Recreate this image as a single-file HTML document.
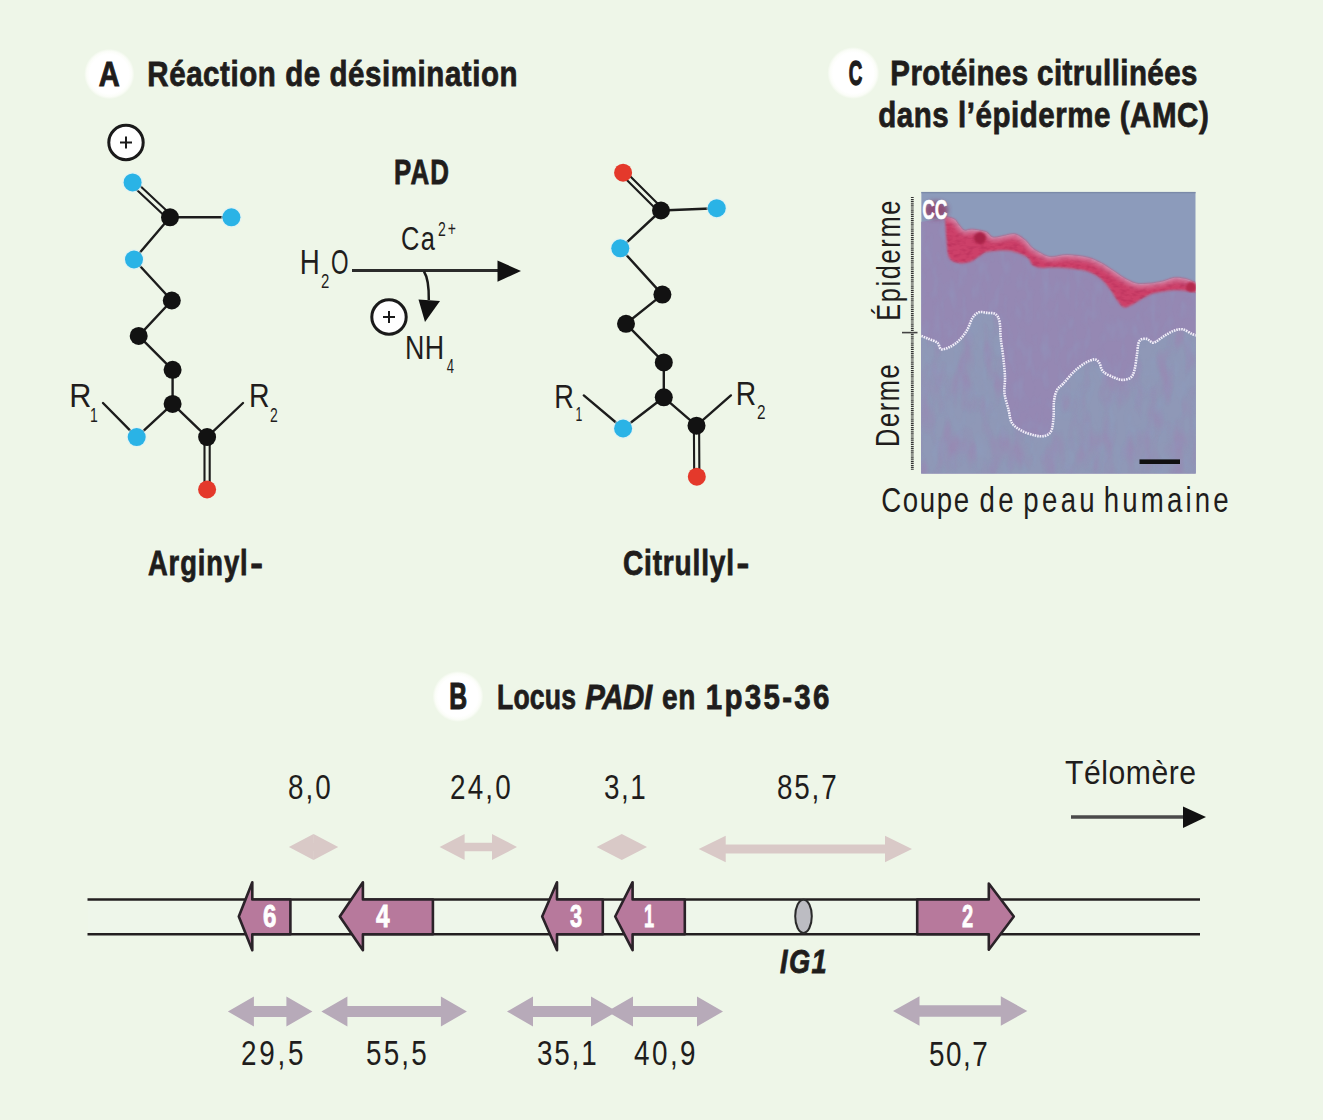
<!DOCTYPE html>
<html><head><meta charset="utf-8"><title>PAD figure</title>
<style>
html,body{margin:0;padding:0;background:#eef6e8;overflow:hidden;}
svg{display:block}
text{font-family:"Liberation Sans",sans-serif;}
</style></head>
<body>
<svg width="1323" height="1120" viewBox="0 0 1323 1120">
<rect x="0" y="0" width="1323" height="1120" fill="#eef6e8"/>
<defs><radialGradient id="badge"><stop offset="0.78" stop-color="#ffffff"/><stop offset="0.9" stop-color="#fbfdf8"/><stop offset="1" stop-color="#eef6e8"/></radialGradient></defs>
<circle cx="109.3" cy="74.0" r="25.2" fill="url(#badge)"/>
<circle cx="853.3" cy="73.0" r="26" fill="url(#badge)"/>
<circle cx="458.0" cy="696.5" r="25.5" fill="url(#badge)"/>
<g stroke="#1c1c1c" stroke-width="2.4" stroke-linecap="round" fill="none">
<line x1="170" y1="217.3" x2="231.4" y2="217.3"/>
<line x1="170" y1="217.3" x2="134" y2="259.5"/>
<line x1="134" y1="259.5" x2="171.8" y2="300.5"/>
<line x1="171.8" y1="300.5" x2="138.7" y2="335.9"/>
<line x1="138.7" y1="335.9" x2="172.6" y2="369.8"/>
<line x1="172.6" y1="369.8" x2="172.6" y2="403.9"/>
<line x1="172.6" y1="403.9" x2="136.7" y2="437.1"/>
<line x1="172.6" y1="403.9" x2="207.1" y2="437.1"/>
<line x1="136.7" y1="437.1" x2="103" y2="403"/>
<line x1="207.1" y1="437.1" x2="243" y2="403"/>
<line x1="130.8" y1="184.3" x2="168.2" y2="219.2" stroke-width="2.1"/>
<line x1="134.4" y1="180.5" x2="171.8" y2="215.4" stroke-width="2.1"/>
<line x1="204.5" y1="437.1" x2="204.5" y2="489.5" stroke-width="2.1"/>
<line x1="209.7" y1="437.1" x2="209.7" y2="489.5" stroke-width="2.1"/>
</g>
<circle cx="132.6" cy="182.4" r="10.2" fill="#d8f0f8" opacity="0.6"/>
<circle cx="132.6" cy="182.4" r="9" fill="#2ab3e6"/>
<circle cx="170" cy="217.3" r="9" fill="#121212"/>
<circle cx="231.4" cy="217.3" r="10.2" fill="#d8f0f8" opacity="0.6"/>
<circle cx="231.4" cy="217.3" r="9" fill="#2ab3e6"/>
<circle cx="134" cy="259.5" r="10.2" fill="#d8f0f8" opacity="0.6"/>
<circle cx="134" cy="259.5" r="9" fill="#2ab3e6"/>
<circle cx="171.8" cy="300.5" r="9" fill="#121212"/>
<circle cx="138.7" cy="335.9" r="9" fill="#121212"/>
<circle cx="172.6" cy="369.8" r="9" fill="#121212"/>
<circle cx="172.6" cy="403.9" r="9" fill="#121212"/>
<circle cx="136.7" cy="437.1" r="10.2" fill="#d8f0f8" opacity="0.6"/>
<circle cx="136.7" cy="437.1" r="9" fill="#2ab3e6"/>
<circle cx="207.1" cy="437.1" r="9" fill="#121212"/>
<circle cx="207.1" cy="489.5" r="9" fill="#e4392b"/>
<g stroke="#1c1c1c" stroke-width="2.4" stroke-linecap="round" fill="none">
<line x1="661" y1="210.5" x2="716.7" y2="208.2"/>
<line x1="661" y1="210.5" x2="620.3" y2="248.3"/>
<line x1="620.3" y1="248.3" x2="662.4" y2="294.6"/>
<line x1="662.4" y1="294.6" x2="626" y2="323.8"/>
<line x1="626" y1="323.8" x2="663.8" y2="362.4"/>
<line x1="663.8" y1="362.4" x2="663.8" y2="397.3"/>
<line x1="663.8" y1="397.3" x2="623.1" y2="428.5"/>
<line x1="663.8" y1="397.3" x2="696.5" y2="425.7"/>
<line x1="623.1" y1="428.5" x2="583.8" y2="395.4"/>
<line x1="696.5" y1="425.7" x2="730.9" y2="395.4"/>
<line x1="621.3" y1="174.5" x2="659.2" y2="212.3" stroke-width="2.1"/>
<line x1="624.9" y1="170.9" x2="662.8" y2="208.7" stroke-width="2.1"/>
<line x1="693.9" y1="425.7" x2="694.2" y2="476.7" stroke-width="2.1"/>
<line x1="699.1" y1="425.7" x2="699.4" y2="476.7" stroke-width="2.1"/>
</g>
<circle cx="623.1" cy="172.7" r="9" fill="#e4392b"/>
<circle cx="661" cy="210.5" r="9" fill="#121212"/>
<circle cx="716.7" cy="208.2" r="10.2" fill="#d8f0f8" opacity="0.6"/>
<circle cx="716.7" cy="208.2" r="9" fill="#2ab3e6"/>
<circle cx="620.3" cy="248.3" r="10.2" fill="#d8f0f8" opacity="0.6"/>
<circle cx="620.3" cy="248.3" r="9" fill="#2ab3e6"/>
<circle cx="662.4" cy="294.6" r="9" fill="#121212"/>
<circle cx="626" cy="323.8" r="9" fill="#121212"/>
<circle cx="663.8" cy="362.4" r="9" fill="#121212"/>
<circle cx="663.8" cy="397.3" r="9" fill="#121212"/>
<circle cx="623.1" cy="428.5" r="10.2" fill="#d8f0f8" opacity="0.6"/>
<circle cx="623.1" cy="428.5" r="9" fill="#2ab3e6"/>
<circle cx="696.5" cy="425.7" r="9" fill="#121212"/>
<circle cx="696.8" cy="476.7" r="9" fill="#e4392b"/>
<circle cx="126" cy="142.5" r="17.2" fill="#ffffff" stroke="#1a1a1a" stroke-width="3"/><path d="M120 142.5h12M126 136.5v12" stroke="#1a1a1a" stroke-width="2"/>
<circle cx="389" cy="317" r="17.2" fill="#ffffff" stroke="#1a1a1a" stroke-width="3"/><path d="M383 317h12M389 311v12" stroke="#1a1a1a" stroke-width="2"/>
<line x1="352" y1="270.5" x2="500" y2="270.5" stroke="#2b2b2b" stroke-width="3.2"/>
<path d="M497.5 260.5L521 271L497.5 281.7Z" fill="#111"/>
<path d="M424 271.5C427.5 277 429 287 428.8 300" fill="none" stroke="#1a1a1a" stroke-width="2.5"/>
<path d="M418.5 299.5L440 301L425 322Z" fill="#111"/>
<defs>
<clipPath id="imgclip"><rect x="921.2" y="191.8" width="274.5" height="281.6"/></clipPath>
<filter id="mottle" color-interpolation-filters="sRGB" x="0" y="0" width="100%" height="100%" filterUnits="objectBoundingBox">
<feTurbulence type="fractalNoise" baseFrequency="0.07 0.03" numOctaves="2" seed="7" result="t"/>
<feColorMatrix in="t" type="matrix" values="0 0 0 0 0.60  0 0 0 0 0.53  0 0 0 0 0.70  0 0 0 2.6 -1.1" result="c"/>
<feComposite in="c" in2="SourceGraphic" operator="in"/>
</filter>
<filter id="mottle2" color-interpolation-filters="sRGB" x="0" y="0" width="100%" height="100%" filterUnits="objectBoundingBox">
<feTurbulence type="fractalNoise" baseFrequency="0.12 0.05" numOctaves="2" seed="11" result="t"/>
<feColorMatrix in="t" type="matrix" values="0 0 0 0 0.55  0 0 0 0 0.64  0 0 0 0 0.78  0 0 0 2.2 -0.95" result="c"/>
<feComposite in="c" in2="SourceGraphic" operator="in"/>
</filter>
<filter id="redtex" color-interpolation-filters="sRGB" x="-5%" y="-5%" width="110%" height="110%">
<feTurbulence type="fractalNoise" baseFrequency="0.15 0.3" numOctaves="2" seed="4" result="t"/>
<feColorMatrix in="t" type="matrix" values="0 0 0 0 0.62  0 0 0 0 0.10  0 0 0 0 0.28  0 0 0 2.5 -1.1" result="c"/>
<feComposite in="c" in2="SourceGraphic" operator="in"/>
</filter>
<filter id="soft"><feGaussianBlur stdDeviation="1.1"/></filter>
<filter id="soft2"><feGaussianBlur stdDeviation="0.7"/></filter>
<filter id="soft3" x="-50%" y="-50%" width="200%" height="200%"><feGaussianBlur stdDeviation="2.5"/></filter>
</defs>
<g clip-path="url(#imgclip)">
<rect x="921.2" y="191.8" width="274.5" height="281.59999999999997" fill="#8c9bbb"/>
<path d="M919.2 222 L945 219 L945 217 L946.5 240 L949.3 258 L959.3 263 L970.5 261.8 L980.5 255.5 L988 251.8 L1005.5 250.5 L1018 253 L1028 258 L1033 265.5 L1043 268 L1050 267.6 L1072.7 268.8 L1089.7 272.2 L1101 279 L1110 289.2 L1118 301.6 L1123.7 307.3 L1131.6 305 L1140.7 299.4 L1152 293.7 L1163.4 291.4 L1180.4 290.3 L1197 292.6 L1199 292.6 L1199 475.4 L919.2 475.4 Z" fill="#9588b3" filter="url(#soft2)"/>
<path id="dermp" d="M919.0 335.0 C920.6 335.6 925.3 337.5 928.4 338.8 C931.5 340.1 935.2 341.0 937.4 342.7 C939.5 344.4 939.1 348.5 941.3 349.2 C943.5 349.9 947.4 348.1 950.4 346.6 C953.4 345.1 956.6 342.9 959.4 340.1 C962.2 337.3 965.0 333.5 967.2 329.8 C969.4 326.1 970.5 321.0 972.4 318.1 C974.3 315.2 976.2 313.2 978.8 312.3 C981.4 311.4 985.1 312.6 987.9 312.9 C990.7 313.2 993.8 312.7 995.7 314.2 C997.7 315.7 998.8 317.9 999.6 322.0 C1000.5 326.1 1000.2 332.8 1000.8 338.8 C1001.4 344.9 1002.7 351.8 1003.4 358.3 C1004.1 364.8 1004.8 371.9 1005.0 377.7 C1005.2 383.5 1003.9 387.8 1004.5 393.2 C1005.1 398.6 1007.4 405.0 1008.6 410.0 C1009.9 415.0 1009.8 419.6 1012.0 423.0 C1014.2 426.4 1017.9 428.6 1021.6 430.7 C1025.3 432.8 1030.6 434.4 1034.5 435.3 C1038.4 436.2 1042.1 436.7 1044.9 435.9 C1047.7 435.1 1049.8 433.9 1051.3 430.7 C1052.8 427.5 1053.1 421.4 1053.6 416.5 C1054.0 411.6 1053.4 405.4 1054.0 401.0 C1054.6 396.6 1055.5 392.9 1057.0 390.0 C1058.5 387.1 1060.5 386.7 1063.3 383.6 C1066.1 380.5 1070.5 374.9 1074.1 371.5 C1077.7 368.1 1081.6 365.1 1085.0 363.1 C1088.4 361.1 1092.2 359.4 1094.6 359.4 C1097.0 359.4 1098.0 361.1 1099.4 363.1 C1100.8 365.1 1100.7 369.1 1103.1 371.5 C1105.5 373.9 1110.7 376.1 1113.9 377.5 C1117.1 378.9 1119.6 379.9 1122.4 379.9 C1125.2 379.9 1128.8 379.1 1130.8 377.5 C1132.8 375.9 1133.4 373.9 1134.4 370.3 C1135.4 366.7 1136.0 360.6 1136.8 355.8 C1137.6 351.0 1137.6 344.2 1139.2 341.4 C1140.8 338.6 1144.1 338.7 1146.5 338.9 C1148.9 339.1 1150.9 343.0 1153.7 342.6 C1156.5 342.2 1160.2 338.4 1163.4 336.5 C1166.6 334.6 1169.8 332.3 1173.0 331.1 C1176.2 329.9 1179.4 328.8 1182.6 329.3 C1185.8 329.8 1189.7 333.0 1192.3 334.1 C1194.9 335.2 1197.0 335.7 1198.0 336.0 L1199 475.4 L919.2 475.4 Z" fill="#8f98b7"/>
<clipPath id="dermclip"><path d="M919.0 335.0 C920.6 335.6 925.3 337.5 928.4 338.8 C931.5 340.1 935.2 341.0 937.4 342.7 C939.5 344.4 939.1 348.5 941.3 349.2 C943.5 349.9 947.4 348.1 950.4 346.6 C953.4 345.1 956.6 342.9 959.4 340.1 C962.2 337.3 965.0 333.5 967.2 329.8 C969.4 326.1 970.5 321.0 972.4 318.1 C974.3 315.2 976.2 313.2 978.8 312.3 C981.4 311.4 985.1 312.6 987.9 312.9 C990.7 313.2 993.8 312.7 995.7 314.2 C997.7 315.7 998.8 317.9 999.6 322.0 C1000.5 326.1 1000.2 332.8 1000.8 338.8 C1001.4 344.9 1002.7 351.8 1003.4 358.3 C1004.1 364.8 1004.8 371.9 1005.0 377.7 C1005.2 383.5 1003.9 387.8 1004.5 393.2 C1005.1 398.6 1007.4 405.0 1008.6 410.0 C1009.9 415.0 1009.8 419.6 1012.0 423.0 C1014.2 426.4 1017.9 428.6 1021.6 430.7 C1025.3 432.8 1030.6 434.4 1034.5 435.3 C1038.4 436.2 1042.1 436.7 1044.9 435.9 C1047.7 435.1 1049.8 433.9 1051.3 430.7 C1052.8 427.5 1053.1 421.4 1053.6 416.5 C1054.0 411.6 1053.4 405.4 1054.0 401.0 C1054.6 396.6 1055.5 392.9 1057.0 390.0 C1058.5 387.1 1060.5 386.7 1063.3 383.6 C1066.1 380.5 1070.5 374.9 1074.1 371.5 C1077.7 368.1 1081.6 365.1 1085.0 363.1 C1088.4 361.1 1092.2 359.4 1094.6 359.4 C1097.0 359.4 1098.0 361.1 1099.4 363.1 C1100.8 365.1 1100.7 369.1 1103.1 371.5 C1105.5 373.9 1110.7 376.1 1113.9 377.5 C1117.1 378.9 1119.6 379.9 1122.4 379.9 C1125.2 379.9 1128.8 379.1 1130.8 377.5 C1132.8 375.9 1133.4 373.9 1134.4 370.3 C1135.4 366.7 1136.0 360.6 1136.8 355.8 C1137.6 351.0 1137.6 344.2 1139.2 341.4 C1140.8 338.6 1144.1 338.7 1146.5 338.9 C1148.9 339.1 1150.9 343.0 1153.7 342.6 C1156.5 342.2 1160.2 338.4 1163.4 336.5 C1166.6 334.6 1169.8 332.3 1173.0 331.1 C1176.2 329.9 1179.4 328.8 1182.6 329.3 C1185.8 329.8 1189.7 333.0 1192.3 334.1 C1194.9 335.2 1197.0 335.7 1198.0 336.0 L1199 475.4 L919.2 475.4 Z"/></clipPath>
<rect x="921.2" y="300" width="274.5" height="173.39999999999998" fill="#fff" filter="url(#mottle)" clip-path="url(#dermclip)" opacity="0.75"/>
<path d="M919.2 222 L945 219 L945 217 L946.5 240 L949.3 258 L959.3 263 L970.5 261.8 L980.5 255.5 L988 251.8 L1005.5 250.5 L1018 253 L1028 258 L1033 265.5 L1043 268 L1050 267.6 L1072.7 268.8 L1089.7 272.2 L1101 279 L1110 289.2 L1118 301.6 L1123.7 307.3 L1131.6 305 L1140.7 299.4 L1152 293.7 L1163.4 291.4 L1180.4 290.3 L1197 292.6 L1199 292.6 L1199 475.4 L919.2 475.4 Z" fill="#fff" filter="url(#mottle2)" opacity="0.25"/>
<path d="M946.0 216.5 C947.4 217.0 952.1 217.8 954.3 219.3 C956.5 220.8 957.6 223.6 959.3 225.5 C961.0 227.4 962.2 229.8 964.3 230.5 C966.4 231.2 968.3 229.3 971.8 229.5 C975.3 229.7 982.0 230.5 985.5 231.8 C989.0 233.1 989.7 236.9 993.0 237.5 C996.3 238.1 1001.8 236.0 1005.5 235.5 C1009.2 235.0 1012.2 233.5 1015.5 234.3 C1018.8 235.1 1022.9 238.4 1025.5 240.5 C1028.1 242.6 1028.9 245.1 1031.0 247.0 C1033.1 248.9 1034.8 250.1 1038.0 251.8 C1041.2 253.5 1045.2 256.4 1050.0 257.0 C1054.8 257.6 1060.8 255.0 1067.0 255.1 C1073.2 255.2 1081.7 256.1 1087.4 257.4 C1093.1 258.7 1096.7 260.8 1101.0 263.1 C1105.3 265.4 1109.7 268.6 1113.5 271.0 C1117.3 273.4 1119.9 275.7 1123.7 277.8 C1127.5 279.9 1131.9 282.6 1136.2 283.5 C1140.5 284.4 1145.3 283.9 1149.8 283.5 C1154.3 283.1 1159.2 282.1 1163.4 281.2 C1167.6 280.2 1170.9 278.2 1174.7 277.8 C1178.5 277.4 1182.3 278.1 1186.0 279.0 C1189.7 279.9 1195.2 282.8 1197.0 283.5 L1197 292.6 1197.0 292.6 C1194.2 292.2 1186.0 290.5 1180.4 290.3 C1174.8 290.1 1168.1 290.8 1163.4 291.4 C1158.7 292.0 1155.8 292.4 1152.0 293.7 C1148.2 295.0 1144.1 297.5 1140.7 299.4 C1137.3 301.3 1134.4 303.7 1131.6 305.0 C1128.8 306.3 1126.0 307.9 1123.7 307.3 C1121.4 306.7 1120.3 304.6 1118.0 301.6 C1115.7 298.6 1112.8 293.0 1110.0 289.2 C1107.2 285.4 1104.4 281.8 1101.0 279.0 C1097.6 276.2 1094.4 273.9 1089.7 272.2 C1085.0 270.5 1079.3 269.6 1072.7 268.8 C1066.1 268.0 1055.0 267.7 1050.0 267.6 C1045.0 267.5 1045.8 268.4 1043.0 268.0 C1040.2 267.6 1035.5 267.2 1033.0 265.5 C1030.5 263.8 1030.5 260.1 1028.0 258.0 C1025.5 255.9 1021.8 254.2 1018.0 253.0 C1014.2 251.8 1010.5 250.7 1005.5 250.5 C1000.5 250.3 992.2 251.0 988.0 251.8 C983.8 252.6 983.4 253.8 980.5 255.5 C977.6 257.2 974.0 260.6 970.5 261.8 C967.0 263.1 962.8 263.6 959.3 263.0 C955.8 262.4 951.4 261.8 949.3 258.0 C947.2 254.2 947.2 246.8 946.5 240.0 C945.8 233.2 945.2 220.8 945.0 217.0 Z" fill="#cd4169" filter="url(#soft)"/>
<path d="M946.0 216.5 C947.4 217.0 952.1 217.8 954.3 219.3 C956.5 220.8 957.6 223.6 959.3 225.5 C961.0 227.4 962.2 229.8 964.3 230.5 C966.4 231.2 968.3 229.3 971.8 229.5 C975.3 229.7 982.0 230.5 985.5 231.8 C989.0 233.1 989.7 236.9 993.0 237.5 C996.3 238.1 1001.8 236.0 1005.5 235.5 C1009.2 235.0 1012.2 233.5 1015.5 234.3 C1018.8 235.1 1022.9 238.4 1025.5 240.5 C1028.1 242.6 1028.9 245.1 1031.0 247.0 C1033.1 248.9 1034.8 250.1 1038.0 251.8 C1041.2 253.5 1045.2 256.4 1050.0 257.0 C1054.8 257.6 1060.8 255.0 1067.0 255.1 C1073.2 255.2 1081.7 256.1 1087.4 257.4 C1093.1 258.7 1096.7 260.8 1101.0 263.1 C1105.3 265.4 1109.7 268.6 1113.5 271.0 C1117.3 273.4 1119.9 275.7 1123.7 277.8 C1127.5 279.9 1131.9 282.6 1136.2 283.5 C1140.5 284.4 1145.3 283.9 1149.8 283.5 C1154.3 283.1 1159.2 282.1 1163.4 281.2 C1167.6 280.2 1170.9 278.2 1174.7 277.8 C1178.5 277.4 1182.3 278.1 1186.0 279.0 C1189.7 279.9 1195.2 282.8 1197.0 283.5 L1197 292.6 1197.0 292.6 C1194.2 292.2 1186.0 290.5 1180.4 290.3 C1174.8 290.1 1168.1 290.8 1163.4 291.4 C1158.7 292.0 1155.8 292.4 1152.0 293.7 C1148.2 295.0 1144.1 297.5 1140.7 299.4 C1137.3 301.3 1134.4 303.7 1131.6 305.0 C1128.8 306.3 1126.0 307.9 1123.7 307.3 C1121.4 306.7 1120.3 304.6 1118.0 301.6 C1115.7 298.6 1112.8 293.0 1110.0 289.2 C1107.2 285.4 1104.4 281.8 1101.0 279.0 C1097.6 276.2 1094.4 273.9 1089.7 272.2 C1085.0 270.5 1079.3 269.6 1072.7 268.8 C1066.1 268.0 1055.0 267.7 1050.0 267.6 C1045.0 267.5 1045.8 268.4 1043.0 268.0 C1040.2 267.6 1035.5 267.2 1033.0 265.5 C1030.5 263.8 1030.5 260.1 1028.0 258.0 C1025.5 255.9 1021.8 254.2 1018.0 253.0 C1014.2 251.8 1010.5 250.7 1005.5 250.5 C1000.5 250.3 992.2 251.0 988.0 251.8 C983.8 252.6 983.4 253.8 980.5 255.5 C977.6 257.2 974.0 260.6 970.5 261.8 C967.0 263.1 962.8 263.6 959.3 263.0 C955.8 262.4 951.4 261.8 949.3 258.0 C947.2 254.2 947.2 246.8 946.5 240.0 C945.8 233.2 945.2 220.8 945.0 217.0 Z" fill="#fff" filter="url(#redtex)" opacity="0.3"/>
<clipPath id="bandclip"><path d="M946.0 216.5 C947.4 217.0 952.1 217.8 954.3 219.3 C956.5 220.8 957.6 223.6 959.3 225.5 C961.0 227.4 962.2 229.8 964.3 230.5 C966.4 231.2 968.3 229.3 971.8 229.5 C975.3 229.7 982.0 230.5 985.5 231.8 C989.0 233.1 989.7 236.9 993.0 237.5 C996.3 238.1 1001.8 236.0 1005.5 235.5 C1009.2 235.0 1012.2 233.5 1015.5 234.3 C1018.8 235.1 1022.9 238.4 1025.5 240.5 C1028.1 242.6 1028.9 245.1 1031.0 247.0 C1033.1 248.9 1034.8 250.1 1038.0 251.8 C1041.2 253.5 1045.2 256.4 1050.0 257.0 C1054.8 257.6 1060.8 255.0 1067.0 255.1 C1073.2 255.2 1081.7 256.1 1087.4 257.4 C1093.1 258.7 1096.7 260.8 1101.0 263.1 C1105.3 265.4 1109.7 268.6 1113.5 271.0 C1117.3 273.4 1119.9 275.7 1123.7 277.8 C1127.5 279.9 1131.9 282.6 1136.2 283.5 C1140.5 284.4 1145.3 283.9 1149.8 283.5 C1154.3 283.1 1159.2 282.1 1163.4 281.2 C1167.6 280.2 1170.9 278.2 1174.7 277.8 C1178.5 277.4 1182.3 278.1 1186.0 279.0 C1189.7 279.9 1195.2 282.8 1197.0 283.5 L1197 292.6 1197.0 292.6 C1194.2 292.2 1186.0 290.5 1180.4 290.3 C1174.8 290.1 1168.1 290.8 1163.4 291.4 C1158.7 292.0 1155.8 292.4 1152.0 293.7 C1148.2 295.0 1144.1 297.5 1140.7 299.4 C1137.3 301.3 1134.4 303.7 1131.6 305.0 C1128.8 306.3 1126.0 307.9 1123.7 307.3 C1121.4 306.7 1120.3 304.6 1118.0 301.6 C1115.7 298.6 1112.8 293.0 1110.0 289.2 C1107.2 285.4 1104.4 281.8 1101.0 279.0 C1097.6 276.2 1094.4 273.9 1089.7 272.2 C1085.0 270.5 1079.3 269.6 1072.7 268.8 C1066.1 268.0 1055.0 267.7 1050.0 267.6 C1045.0 267.5 1045.8 268.4 1043.0 268.0 C1040.2 267.6 1035.5 267.2 1033.0 265.5 C1030.5 263.8 1030.5 260.1 1028.0 258.0 C1025.5 255.9 1021.8 254.2 1018.0 253.0 C1014.2 251.8 1010.5 250.7 1005.5 250.5 C1000.5 250.3 992.2 251.0 988.0 251.8 C983.8 252.6 983.4 253.8 980.5 255.5 C977.6 257.2 974.0 260.6 970.5 261.8 C967.0 263.1 962.8 263.6 959.3 263.0 C955.8 262.4 951.4 261.8 949.3 258.0 C947.2 254.2 947.2 246.8 946.5 240.0 C945.8 233.2 945.2 220.8 945.0 217.0 Z"/></clipPath>
<path d="M946.0 216.5 C947.4 217.0 952.1 217.8 954.3 219.3 C956.5 220.8 957.6 223.6 959.3 225.5 C961.0 227.4 962.2 229.8 964.3 230.5 C966.4 231.2 968.3 229.3 971.8 229.5 C975.3 229.7 982.0 230.5 985.5 231.8 C989.0 233.1 989.7 236.9 993.0 237.5 C996.3 238.1 1001.8 236.0 1005.5 235.5 C1009.2 235.0 1012.2 233.5 1015.5 234.3 C1018.8 235.1 1022.9 238.4 1025.5 240.5 C1028.1 242.6 1028.9 245.1 1031.0 247.0 C1033.1 248.9 1034.8 250.1 1038.0 251.8 C1041.2 253.5 1045.2 256.4 1050.0 257.0 C1054.8 257.6 1060.8 255.0 1067.0 255.1 C1073.2 255.2 1081.7 256.1 1087.4 257.4 C1093.1 258.7 1096.7 260.8 1101.0 263.1 C1105.3 265.4 1109.7 268.6 1113.5 271.0 C1117.3 273.4 1119.9 275.7 1123.7 277.8 C1127.5 279.9 1131.9 282.6 1136.2 283.5 C1140.5 284.4 1145.3 283.9 1149.8 283.5 C1154.3 283.1 1159.2 282.1 1163.4 281.2 C1167.6 280.2 1170.9 278.2 1174.7 277.8 C1178.5 277.4 1182.3 278.1 1186.0 279.0 C1189.7 279.9 1195.2 282.8 1197.0 283.5" fill="none" stroke="#dcb6d2" stroke-width="7" opacity="0.55" filter="url(#soft3)" clip-path="url(#bandclip)"/>
<ellipse cx="980" cy="238" rx="6" ry="6" fill="#a82446" filter="url(#soft)"/>
<ellipse cx="1191" cy="287" rx="5" ry="5" fill="#b52a4d" filter="url(#soft)"/>
<ellipse cx="936" cy="210" rx="12" ry="9" fill="#8e3560" filter="url(#soft3)" opacity="0.75"/>
<path d="M919.0 335.0 C920.6 335.6 925.3 337.5 928.4 338.8 C931.5 340.1 935.2 341.0 937.4 342.7 C939.5 344.4 939.1 348.5 941.3 349.2 C943.5 349.9 947.4 348.1 950.4 346.6 C953.4 345.1 956.6 342.9 959.4 340.1 C962.2 337.3 965.0 333.5 967.2 329.8 C969.4 326.1 970.5 321.0 972.4 318.1 C974.3 315.2 976.2 313.2 978.8 312.3 C981.4 311.4 985.1 312.6 987.9 312.9 C990.7 313.2 993.8 312.7 995.7 314.2 C997.7 315.7 998.8 317.9 999.6 322.0 C1000.5 326.1 1000.2 332.8 1000.8 338.8 C1001.4 344.9 1002.7 351.8 1003.4 358.3 C1004.1 364.8 1004.8 371.9 1005.0 377.7 C1005.2 383.5 1003.9 387.8 1004.5 393.2 C1005.1 398.6 1007.4 405.0 1008.6 410.0 C1009.9 415.0 1009.8 419.6 1012.0 423.0 C1014.2 426.4 1017.9 428.6 1021.6 430.7 C1025.3 432.8 1030.6 434.4 1034.5 435.3 C1038.4 436.2 1042.1 436.7 1044.9 435.9 C1047.7 435.1 1049.8 433.9 1051.3 430.7 C1052.8 427.5 1053.1 421.4 1053.6 416.5 C1054.0 411.6 1053.4 405.4 1054.0 401.0 C1054.6 396.6 1055.5 392.9 1057.0 390.0 C1058.5 387.1 1060.5 386.7 1063.3 383.6 C1066.1 380.5 1070.5 374.9 1074.1 371.5 C1077.7 368.1 1081.6 365.1 1085.0 363.1 C1088.4 361.1 1092.2 359.4 1094.6 359.4 C1097.0 359.4 1098.0 361.1 1099.4 363.1 C1100.8 365.1 1100.7 369.1 1103.1 371.5 C1105.5 373.9 1110.7 376.1 1113.9 377.5 C1117.1 378.9 1119.6 379.9 1122.4 379.9 C1125.2 379.9 1128.8 379.1 1130.8 377.5 C1132.8 375.9 1133.4 373.9 1134.4 370.3 C1135.4 366.7 1136.0 360.6 1136.8 355.8 C1137.6 351.0 1137.6 344.2 1139.2 341.4 C1140.8 338.6 1144.1 338.7 1146.5 338.9 C1148.9 339.1 1150.9 343.0 1153.7 342.6 C1156.5 342.2 1160.2 338.4 1163.4 336.5 C1166.6 334.6 1169.8 332.3 1173.0 331.1 C1176.2 329.9 1179.4 328.8 1182.6 329.3 C1185.8 329.8 1189.7 333.0 1192.3 334.1 C1194.9 335.2 1197.0 335.7 1198.0 336.0" fill="none" stroke="#f2eef9" stroke-width="2.6" stroke-dasharray="1.6 0.9" stroke-linejoin="round"/>
<rect x="1139.5" y="459.4" width="40.5" height="4.6" fill="#101010"/>
<rect x="921.2" y="191.8" width="274.5" height="1.5" fill="#7b8aa8"/>
</g>
<line x1="912.3" y1="197" x2="912.3" y2="470.5" stroke="#333333" stroke-width="2.8" stroke-dasharray="1.1 0.8"/>
<line x1="902" y1="332.6" x2="917.5" y2="332.6" stroke="#444" stroke-width="1.6"/>
<rect x="88" y="899.5" width="1112" height="34.700000000000045" fill="#eef6ea"/>
<line x1="87.5" y1="899.5" x2="1200" y2="899.5" stroke="#231f20" stroke-width="2.5"/>
<line x1="87.5" y1="934.2" x2="1200" y2="934.2" stroke="#231f20" stroke-width="2.5"/>
<path d="M290.4 899.5 L252.3 899.5 L252.3 882.2 L238.8 916.5 L252.3 950.2 L252.3 934.2 L290.4 934.2 Z" fill="#b7799c" stroke="#2a2228" stroke-width="2.6" stroke-linejoin="round"/>
<path d="M432.9 899.5 L362.9 899.5 L362.9 882.2 L339.8 916.5 L362.9 950.2 L362.9 934.2 L432.9 934.2 Z" fill="#b7799c" stroke="#2a2228" stroke-width="2.6" stroke-linejoin="round"/>
<path d="M602.8 899.5 L557.0 899.5 L557.0 882.2 L542.2 916.5 L557.0 950.2 L557.0 934.2 L602.8 934.2 Z" fill="#b7799c" stroke="#2a2228" stroke-width="2.6" stroke-linejoin="round"/>
<path d="M684.8 899.5 L632.6 899.5 L632.6 882.2 L615.2 916.5 L632.6 950.2 L632.6 934.2 L684.8 934.2 Z" fill="#b7799c" stroke="#2a2228" stroke-width="2.6" stroke-linejoin="round"/>
<path d="M917.2 899.5 L988.8 899.5 L988.8 883.5 L1013.8 916.5 L988.8 949.7 L988.8 934.2 L917.2 934.2 Z" fill="#b7799c" stroke="#2a2228" stroke-width="2.6" stroke-linejoin="round"/>
<ellipse cx="803.5" cy="916.3" rx="8.3" ry="16.6" fill="#bcbcc2" stroke="#2a2a2a" stroke-width="2"/>
<path d="M288.9 847 L313.5 834.0 L313.5 843.0 L313.59999999999997 843.0 L313.59999999999997 834.0 L338.2 847 L313.59999999999997 860.0 L313.59999999999997 851.0 L313.5 851.0 L313.5 860.0 Z" fill="#d9c9c7"/>
<path d="M439.6 847 L464.6 834.0 L464.6 842.75 L492 842.75 L492 834.0 L517 847 L492 860.0 L492 851.25 L464.6 851.25 L464.6 860.0 Z" fill="#d9c9c7"/>
<path d="M596.6 847 L621.8000000000001 834.0 L621.8000000000001 843.0 L621.8 843.0 L621.8 834.0 L647 847 L621.8 860.0 L621.8 851.0 L621.8000000000001 851.0 L621.8000000000001 860.0 Z" fill="#d9c9c7"/>
<path d="M698.7 849 L725.7 835.7 L725.7 844.5 L885 844.5 L885 835.7 L912 849 L885 862.3 L885 853.5 L725.7 853.5 L725.7 862.3 Z" fill="#d9c9c7"/>
<path d="M227.9 1011.5 L253.9 996.5 L253.9 1006.0 L286.4 1006.0 L286.4 996.5 L312.4 1011.5 L286.4 1026.5 L286.4 1017.0 L253.9 1017.0 L253.9 1026.5 Z" fill="#b7aab9"/>
<path d="M321.4 1011.5 L347.4 996.5 L347.4 1006.0 L440.9 1006.0 L440.9 996.5 L466.9 1011.5 L440.9 1026.5 L440.9 1017.0 L347.4 1017.0 L347.4 1026.5 Z" fill="#b7aab9"/>
<path d="M507 1011.5 L533 996.5 L533 1006.0 L591 1006.0 L591 996.5 L617 1011.5 L591 1026.5 L591 1017.0 L533 1017.0 L533 1026.5 Z" fill="#b7aab9"/>
<path d="M607 1011.5 L633 996.5 L633 1006.0 L697 1006.0 L697 996.5 L723 1011.5 L697 1026.5 L697 1017.0 L633 1017.0 L633 1026.5 Z" fill="#b7aab9"/>
<path d="M893 1011 L919.5 996.25 L919.5 1005.25 L1000.8 1005.25 L1000.8 996.25 L1027.3 1011 L1000.8 1025.75 L1000.8 1016.75 L919.5 1016.75 L919.5 1025.75 Z" fill="#b7aab9"/>
<line x1="1071" y1="817" x2="1188" y2="817" stroke="#4a4a4a" stroke-width="3.4"/>
<path d="M1183 806.5L1206 817L1183 828Z" fill="#111"/>
<text id="A" transform="translate(98.70 85.70) scale(0.8061 1)" font-size="36.0" fill="#1f1d1c" font-weight="bold" stroke="#1f1d1c" stroke-width="1.0">A</text>
<text id="react" transform="translate(147.30 85.60) scale(0.82 1)" font-size="36.0" fill="#1f1d1c" font-weight="bold" stroke="#1f1d1c" stroke-width="0.8" textLength="451.63" lengthAdjust="spacing">Réaction de désimination</text>
<text id="C" transform="translate(848.80 84.70) scale(0.5211 1)" font-size="36.0" fill="#1f1d1c" font-weight="bold" stroke="#1f1d1c" stroke-width="1.4">C</text>
<text id="prot" transform="translate(890.30 84.70) scale(0.82 1)" font-size="36.0" fill="#1f1d1c" font-weight="bold" stroke="#1f1d1c" stroke-width="0.8" textLength="374.57" lengthAdjust="spacing">Protéines citrullinées</text>
<text id="dans" transform="translate(878.30 127.10) scale(0.82 1)" font-size="36.0" fill="#1f1d1c" font-weight="bold" stroke="#1f1d1c" stroke-width="0.8" textLength="402.99" lengthAdjust="spacing">dans l’épiderme (AMC)</text>
<text id="B" transform="translate(449.30 708.90) scale(0.687 1)" font-size="36.0" fill="#1f1d1c" font-weight="bold" stroke="#1f1d1c" stroke-width="1.2">B</text>
<text id="locus1" transform="translate(497.00 708.60) scale(0.74 1)" font-size="36.0" fill="#1f1d1c" font-weight="bold" stroke="#1f1d1c" stroke-width="0.8" textLength="106.90" lengthAdjust="spacing">Locus</text>
<text id="locus2" transform="translate(585.30 708.60) scale(0.82 1)" font-size="36.0" fill="#1f1d1c" font-weight="bold" font-style="italic" stroke="#1f1d1c" stroke-width="0.8" textLength="81.51" lengthAdjust="spacing">PADI</text>
<text id="locus3" transform="translate(662.00 708.60) scale(0.78 1)" font-size="36.0" fill="#1f1d1c" font-weight="bold" stroke="#1f1d1c" stroke-width="0.8" textLength="42.77" lengthAdjust="spacing">en</text>
<text id="locus4" transform="translate(705.80 708.60) scale(0.82 1)" font-size="36.0" fill="#1f1d1c" font-weight="bold" stroke="#1f1d1c" stroke-width="0.8" textLength="150.69" lengthAdjust="spacing">1p35-36</text>
<text id="PAD" transform="translate(394.00 183.70) scale(0.72 1)" font-size="36.0" fill="#1f1d1c" font-weight="bold" stroke="#1f1d1c" stroke-width="0.8" textLength="76.23" lengthAdjust="spacing">PAD</text>
<text id="arg" transform="translate(147.90 574.90) scale(0.76 1)" font-size="36.0" fill="#1f1d1c" font-weight="bold" stroke="#1f1d1c" stroke-width="0.8" textLength="131.28" lengthAdjust="spacing">Arginyl</text>
<text id="argh" transform="translate(250.20 574.90) scale(1.0593 1)" font-size="36.0" fill="#1f1d1c" font-weight="bold" stroke="#1f1d1c" stroke-width="0.8">-</text>
<text id="cit" transform="translate(623.00 575.30) scale(0.78 1)" font-size="36.0" fill="#1f1d1c" font-weight="bold" stroke="#1f1d1c" stroke-width="0.8" textLength="142.34" lengthAdjust="spacing">Citrullyl</text>
<text id="cith" transform="translate(736.60 575.30) scale(1.0646 1)" font-size="36.0" fill="#1f1d1c" font-weight="bold" stroke="#1f1d1c" stroke-width="0.8">-</text>
<text id="IG1" transform="translate(780.00 973.00) scale(0.8 1)" font-size="34" fill="#1f1d1c" font-weight="bold" font-style="italic" stroke="#1f1d1c" stroke-width="0.8" textLength="58.40" lengthAdjust="spacing">IG1</text>
<text id="g6" transform="translate(263.00 926.80) scale(0.7538 1)" font-size="32" fill="#ffffff" font-weight="bold" stroke="#ffffff" stroke-width="0.8">6</text>
<text id="g4" transform="translate(376.00 926.80) scale(0.7647 1)" font-size="32" fill="#ffffff" font-weight="bold" stroke="#ffffff" stroke-width="0.8">4</text>
<text id="g3" transform="translate(570.00 926.50) scale(0.6821 1)" font-size="32" fill="#ffffff" font-weight="bold" stroke="#ffffff" stroke-width="0.8">3</text>
<text id="g1" transform="translate(644.00 926.50) scale(0.57 1)" font-size="32" fill="#ffffff" font-weight="bold" stroke="#ffffff" stroke-width="0.8">1</text>
<text id="g2" transform="translate(962.00 926.50) scale(0.6303 1)" font-size="32" fill="#ffffff" font-weight="bold" stroke="#ffffff" stroke-width="0.8">2</text>
<text id="CC" transform="translate(922.20 219.30) scale(0.62 1)" font-size="28" fill="#ffffff" font-weight="bold" stroke="#ffffff" stroke-width="0.5" textLength="40.35" lengthAdjust="spacing">CC</text>
<text id="H" transform="translate(299.70 273.90) scale(0.7925 1)" font-size="35.0" fill="#1f1d1c">H</text>
<text id="H2" transform="translate(320.90 287.60) scale(0.7126 1)" font-size="21" fill="#1f1d1c">2</text>
<text id="O" transform="translate(331.10 273.90) scale(0.644 1)" font-size="35.0" fill="#1f1d1c">O</text>
<text id="Ca" transform="translate(401.00 250.30) scale(0.76 1)" font-size="33.5" fill="#1f1d1c" textLength="44.49" lengthAdjust="spacing">Ca</text>
<text id="Ca2" transform="translate(438.00 236.20) scale(0.72 1)" font-size="19.5" fill="#1f1d1c" textLength="24.96" lengthAdjust="spacing">2+</text>
<text id="NH" transform="translate(405.00 358.70) scale(0.8 1)" font-size="33.5" fill="#1f1d1c" textLength="48.86" lengthAdjust="spacing">NH</text>
<text id="NH4" transform="translate(446.80 373.20) scale(0.6694 1)" font-size="19.5" fill="#1f1d1c">4</text>
<text id="aR1" transform="translate(69.20 407.40) scale(0.9294 1)" font-size="33.0" fill="#1f1d1c">R</text>
<text id="aR1s" transform="translate(90.00 422.00) scale(0.7 1)" font-size="20" fill="#1f1d1c">1</text>
<text id="aR2" transform="translate(249.00 407.40) scale(0.8625 1)" font-size="33.0" fill="#1f1d1c">R</text>
<text id="aR2s" transform="translate(270.00 422.00) scale(0.7 1)" font-size="20" fill="#1f1d1c">2</text>
<text id="cR1" transform="translate(554.20 407.70) scale(0.8234 1)" font-size="33.0" fill="#1f1d1c">R</text>
<text id="cR1s" transform="translate(575.60 421.00) scale(0.6151 1)" font-size="20" fill="#1f1d1c">1</text>
<text id="cR2" transform="translate(735.80 404.90) scale(0.8559 1)" font-size="33.0" fill="#1f1d1c">R</text>
<text id="cR2s" transform="translate(757.10 419.40) scale(0.7681 1)" font-size="20" fill="#1f1d1c">2</text>
<text id="coupe1" transform="translate(881.30 512.00) scale(0.8 1)" font-size="34.5" fill="#1f1d1c" textLength="109.70" lengthAdjust="spacing">Coupe</text>
<text id="coupe2" transform="translate(979.40 512.00) scale(0.8 1)" font-size="34.5" fill="#1f1d1c" textLength="42.70" lengthAdjust="spacing">de</text>
<text id="coupe3" transform="translate(1023.30 512.00) scale(0.8 1)" font-size="34.5" fill="#1f1d1c" textLength="89.20" lengthAdjust="spacing">peau</text>
<text id="coupe4" transform="translate(1103.70 512.00) scale(0.8 1)" font-size="34.5" fill="#1f1d1c" textLength="156.10" lengthAdjust="spacing">humaine</text>
<text id="telo" transform="translate(1065.00 784.10) scale(0.9 1)" font-size="33.5" fill="#1f1d1c" textLength="145.59" lengthAdjust="spacing">Télomère</text>
<text id="epi" transform="translate(899.60 320.80) rotate(-90) scale(0.78 1)" font-size="32.4" fill="#1f1d1c" textLength="153.88" lengthAdjust="spacing">Épiderme</text>
<text id="derme" transform="translate(899.30 447.00) rotate(-90) scale(0.78 1)" font-size="32.4" fill="#1f1d1c" textLength="105.80" lengthAdjust="spacing">Derme</text>
<text id="n80" transform="translate(288.00 798.80) scale(0.8 1)" font-size="34.8" fill="#1f1d1c" textLength="53.30" lengthAdjust="spacing">8,0</text>
<text id="n240" transform="translate(450.00 798.80) scale(0.8 1)" font-size="34.8" fill="#1f1d1c" textLength="75.82" lengthAdjust="spacing">24,0</text>
<text id="n31" transform="translate(604.00 798.80) scale(0.8 1)" font-size="34.8" fill="#1f1d1c" textLength="52.05" lengthAdjust="spacing">3,1</text>
<text id="n857" transform="translate(777.00 799.30) scale(0.8 1)" font-size="34.8" fill="#1f1d1c" textLength="74.55" lengthAdjust="spacing">85,7</text>
<text id="n295" transform="translate(241.00 1064.70) scale(0.8 1)" font-size="34.8" fill="#1f1d1c" textLength="78.26" lengthAdjust="spacing">29,5</text>
<text id="n555" transform="translate(366.00 1064.70) scale(0.8 1)" font-size="34.8" fill="#1f1d1c" textLength="75.80" lengthAdjust="spacing">55,5</text>
<text id="n351" transform="translate(537.00 1064.70) scale(0.8 1)" font-size="34.8" fill="#1f1d1c" textLength="74.55" lengthAdjust="spacing">35,1</text>
<text id="n409" transform="translate(634.00 1064.70) scale(0.8 1)" font-size="34.8" fill="#1f1d1c" textLength="77.01" lengthAdjust="spacing">40,9</text>
<text id="n507" transform="translate(929.00 1065.50) scale(0.8 1)" font-size="34.8" fill="#1f1d1c" textLength="73.34" lengthAdjust="spacing">50,7</text>
</svg>
</body></html>
